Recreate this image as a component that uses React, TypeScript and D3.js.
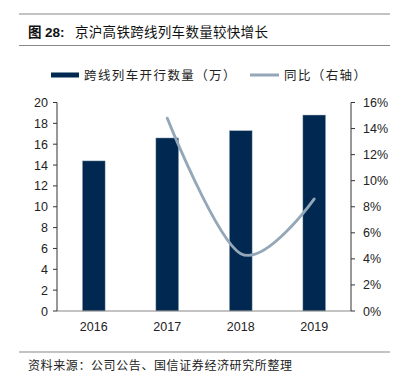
import React from "react";
import * as d3 from "d3";

const years = ["2016", "2017", "2018", "2019"];
const trains = [14.4, 16.6, 17.3, 18.8];
const yoyYears = ["2017", "2018", "2019"];
const yoy = [14.8, 4.4, 8.6];
const leftTicks = [0, 2, 4, 6, 8, 10, 12, 14, 16, 18, 20];
const rightTicks = [0, 2, 4, 6, 8, 10, 12, 14, 16];

const W = 404, H = 379;
const L = 57, R = 351, T = 102.5, B = 311;
const FONT = "'Liberation Sans', Arial, 'Noto Sans CJK SC', sans-serif";
const CJK = "'Noto Sans CJK SC', sans-serif";

export default function App() {
  const x = d3.scaleBand<string>().domain(years).range([L, R]).paddingInner(0.69).paddingOuter(0.345);
  const yl = d3.scaleLinear().domain([0, 20]).range([B, T]);
  const yr = d3.scaleLinear().domain([0, 16]).range([B, T]);
  const cx = (d: string) => (x(d) as number) + x.bandwidth() / 2;
  const line = d3
    .line<number>()
    .x((_, i) => cx(yoyYears[i]))
    .y((d) => yr(d))
    .curve(d3.curveCatmullRom.alpha(0));
  return (
    <svg width={W} height={H} style={{ position: "absolute", left: 0, top: 0, background: "#fff" }}>
      <line x1={19} x2={390} y1={14} y2={14} stroke="#888" strokeWidth={1.2} />
      <line x1={19} x2={390} y1={45.5} y2={45.5} stroke="#888" strokeWidth={1.2} />
      <text y={37} fontFamily={CJK} fontSize={13.5} fontWeight="bold" fill="#111">
        <tspan x={28}>图</tspan>
        <tspan x={45} fontFamily={FONT}>28:</tspan>
        <tspan x={75} fontWeight="normal" letterSpacing={0.3}>京沪高铁跨线列车数量较快增长</tspan>
      </text>

      {/* legend */}
      <rect x={51} y={72.5} width={28} height={5} fill="#002851" />
      <text x={84} y={79.5} fontFamily={CJK} fontSize={12.5} letterSpacing={1.4} fill="#222">跨线列车开行数量（万）</text>
      <line x1={250} x2={279} y1={75} y2={75} stroke="#94a7b8" strokeWidth={3} />
      <text x={284} y={79.5} fontFamily={CJK} fontSize={12.5} letterSpacing={1.4} fill="#222">同比（右轴）</text>

      {/* bars */}
      {years.map((d, i) => (
        <rect key={d} x={x(d)} y={yl(trains[i])} width={x.bandwidth()} height={B - yl(trains[i])} fill="#002851" stroke="#a9b8c6" strokeWidth={0.5} />
      ))}

      {/* x axis */}
      <line x1={L} x2={R} y1={B} y2={B} stroke="#888" strokeWidth={1.2} />
      {years.map((d) => (
        <text key={d} x={cx(d)} y={331} textAnchor="middle" fontFamily={FONT} fontSize={12.5} fill="#222">{d}</text>
      ))}

      {/* left axis */}
      <line x1={L} x2={L} y1={T} y2={B} stroke="#333" strokeWidth={1} />
      {leftTicks.map((t) => (
        <g key={t}>
          <line x1={L - 4} x2={L} y1={yl(t)} y2={yl(t)} stroke="#333" />
          <text x={48} y={yl(t) + 4.5} textAnchor="end" fontFamily={FONT} fontSize={12.5} fill="#222">{t}</text>
        </g>
      ))}

      {/* right axis */}
      <line x1={R} x2={R} y1={T} y2={B} stroke="#333" strokeWidth={1} />
      {rightTicks.map((t) => (
        <g key={t}>
          <line x1={R} x2={R + 4} y1={yr(t)} y2={yr(t)} stroke="#333" />
          <text x={363} y={yr(t) + 4.5} textAnchor="start" fontFamily={FONT} fontSize={12.5} fill="#222">{t}%</text>
        </g>
      ))}

      {/* yoy line */}
      <path d={line(yoy) || ""} fill="none" stroke="#94a7b8" strokeWidth={2.8} strokeLinecap="round" />

      {/* footer */}
      <line x1={19} x2={390} y1={352} y2={352} stroke="#888" strokeWidth={1.2} />
      <text x={28} y={370} fontFamily={CJK} fontSize={12} letterSpacing={0.6} fill="#222">资料来源：公司公告、国信证券经济研究所整理</text>
    </svg>
  );
}
